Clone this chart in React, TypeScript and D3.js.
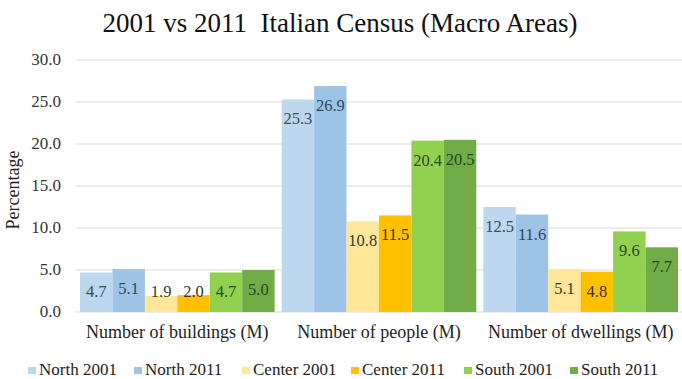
import React from "react";
import * as d3 from "d3";

const categories = ["Number of buildings (M)", "Number of people (M)", "Number of dwellings (M)"];
const seriesNames = ["North 2001", "North 2011", "Center 2001", "Center 2011", "South 2001", "South 2011"];
const north2001 = [4.7, 25.3, 12.5];
const north2011 = [5.1, 26.9, 11.6];
const center2001 = [1.9, 10.8, 5.1];
const center2011 = [2.0, 11.5, 4.8];
const south2001 = [4.7, 20.4, 9.6];
const south2011 = [5.0, 20.5, 7.7];
const yTicks = [0, 5, 10, 15, 20, 25, 30];

const seriesValues = [north2001, north2011, center2001, center2011, south2001, south2011];
const colors = ["#BDD7EE", "#9DC3E6", "#FFE699", "#FFC000", "#92D050", "#70AD47"];
const labelColors = ["#3A4A5C", "#33455A", "#3A3A2E", "#3A3420", "#2E4A1E", "#2A441A"];

export default function App() {
  const W = 682, H = 379;
  const y = d3.scaleLinear().domain([0, 30]).range([312, 60]);
  const x0 = d3.scaleBand().domain(categories).range([76, 682]).paddingInner(0.035).paddingOuter(0.02);
  const x1 = d3.scaleBand().domain(seriesNames).range([0, x0.bandwidth()]).padding(0);
  const serif = "'Liberation Serif', 'Times New Roman', serif";
  const legendX = [28, 134, 242, 351, 464, 570];

  return (
    <svg width={W} height={H} style={{ position: "absolute", left: 0, top: 0, background: "#fff" }}>
      <rect width={W} height={H} fill="#fff" />
      <text x={340} y={32} textAnchor="middle" fontFamily={serif} fontSize={27} fill="#111">
        {"2001 vs 2011\u00a0 Italian Census (Macro Areas)"}
      </text>
      {yTicks.map((t) => (
        <g key={t}>
          <line x1={75} x2={682} y1={y(t)} y2={y(t)} stroke="#D9D9D9" strokeWidth={1} />
          <text x={61} y={y(t) + 5} textAnchor="end" fontFamily={serif} fontSize={17} fill="#333">
            {t.toFixed(1)}
          </text>
        </g>
      ))}
      <text transform="translate(19,190) rotate(-90)" textAnchor="middle" fontFamily={serif} fontSize={18} fill="#222">
        Percentage
      </text>
      {categories.map((c, ci) => (
        <g key={c} transform={`translate(${x0(c)},0)`}>
          {seriesNames.map((s, si) => {
            const v = seriesValues[si][ci];
            const bx = x1(s)!;
            const top = y(v);
            const ly = Math.min(top + 20, 292);
            return (
              <g key={s}>
                <rect x={bx} y={top} width={x1.bandwidth()} height={y(0) - top} fill={colors[si]} />
                <text x={bx + x1.bandwidth() / 2} y={ly + 5} textAnchor="middle" fontFamily={serif} fontSize={16.5} fill={labelColors[si]}>
                  {v.toFixed(1)}
                </text>
              </g>
            );
          })}
          <text x={x0.bandwidth() / 2} y={338} textAnchor="middle" fontFamily={serif} fontSize={18} fill="#222">
            {c}
          </text>
        </g>
      ))}
      {seriesNames.map((s, i) => (
        <g key={s}>
          <rect x={legendX[i]} y={367} width={8} height={7} fill={colors[i]} />
          <text x={legendX[i] + 11} y={375} fontFamily={serif} fontSize={17} fill="#222">
            {s}
          </text>
        </g>
      ))}
    </svg>
  );
}
